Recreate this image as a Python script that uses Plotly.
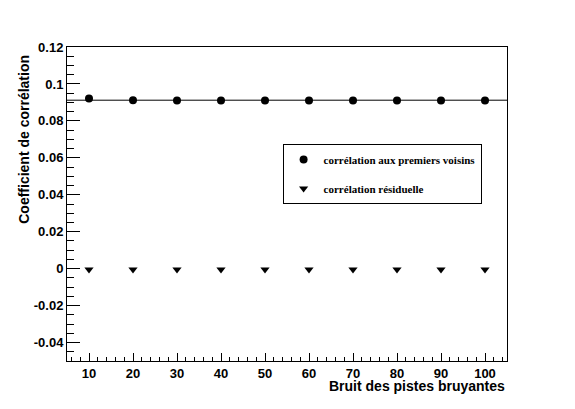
import plotly.graph_objects as go

# bruit des pistes bruyantes
bruit = [10, 20, 30, 40, 50, 60, 70, 80, 90, 100]

# correlation aux premiers voisins
corr_voisins = [0.0921, 0.0912, 0.0911, 0.0911, 0.0911, 0.0911, 0.0911, 0.0911, 0.0911, 0.0911]

# correlation residuelle
corr_residuelle = [-0.0005, -0.0005, -0.0005, -0.0005, -0.0005, -0.0005, -0.0005, -0.0005, -0.0005, -0.0005]

# valeur de l'ajustement (ligne horizontale)
fit_value = 0.0912

x_ticks = [10, 20, 30, 40, 50, 60, 70, 80, 90, 100]
y_ticks = [-0.04, -0.02, 0, 0.02, 0.04, 0.06, 0.08, 0.1, 0.12]
y_labels = ["-0.04", "-0.02", "0", "0.02", "0.04", "0.06", "0.08", "0.1", "0.12"]

bold = dict(family="Liberation Sans", size=13, color="black", weight="bold")
title_font = dict(family="Liberation Sans", size=14, color="black", weight="bold")
legend_font = dict(family="Liberation Serif", size=11, color="black", weight="bold")

fig = go.Figure()

fig.add_trace(go.Scatter(
    x=bruit, y=corr_voisins, mode="markers",
    marker=dict(symbol="circle", size=8, color="black"),
    name="corrélation aux premiers voisins", legendgroup="a",
))
fig.add_trace(go.Scatter(
    x=bruit, y=corr_residuelle, mode="markers",
    marker=dict(symbol="triangle-down", size=8, color="black"),
    name="corrélation résiduelle", legendgroup="b",
))

fig.add_hline(y=fit_value, line=dict(color="black", width=1))

fig.update_xaxes(
    range=[5, 105], tickvals=x_ticks, ticks="inside", ticklen=8, tickwidth=1,
    tickcolor="black", showline=True, linecolor="black", linewidth=1, mirror=True,
    showgrid=False, zeroline=False, tickfont=bold,
    minor=dict(dtick=2, tick0=0, ticks="inside", ticklen=4, tickcolor="black"),
)
fig.update_yaxes(
    range=[-0.05, 0.12], tickvals=y_ticks, ticktext=y_labels, ticks="inside",
    ticklen=13, tickwidth=1, tickcolor="black", showline=True, linecolor="black",
    linewidth=1, mirror=True, showgrid=False, zeroline=False, tickfont=bold,
    minor=dict(dtick=0.005, tick0=0, ticks="inside", ticklen=7, tickcolor="black"),
)

# titres des axes, alignes comme dans ROOT
fig.add_annotation(
    text="Bruit des pistes bruyantes", xref="paper", yref="paper",
    x=1, y=-0.08, xanchor="right", yanchor="middle", showarrow=False, font=title_font,
)
fig.add_annotation(
    text="Coefficient de corrélation", xref="paper", yref="paper", textangle=-90,
    x=-0.097, y=0.981, xanchor="center", yanchor="top", showarrow=False, font=title_font,
)

# la page a une marge de 8 px en haut a gauche : on reduit la figure d'autant
fig.update_layout(
    width=567, height=401,
    margin=dict(l=59, r=68, t=39, b=48),
    paper_bgcolor="white", plot_bgcolor="white",
    legend=dict(
        x=0.49, y=0.691, xanchor="left", yanchor="top",
        bordercolor="black", borderwidth=1, bgcolor="white",
        font=legend_font, traceorder="grouped", tracegroupgap=10,
        itemwidth=30,
    ),
)

fig.write_html("out.html")
